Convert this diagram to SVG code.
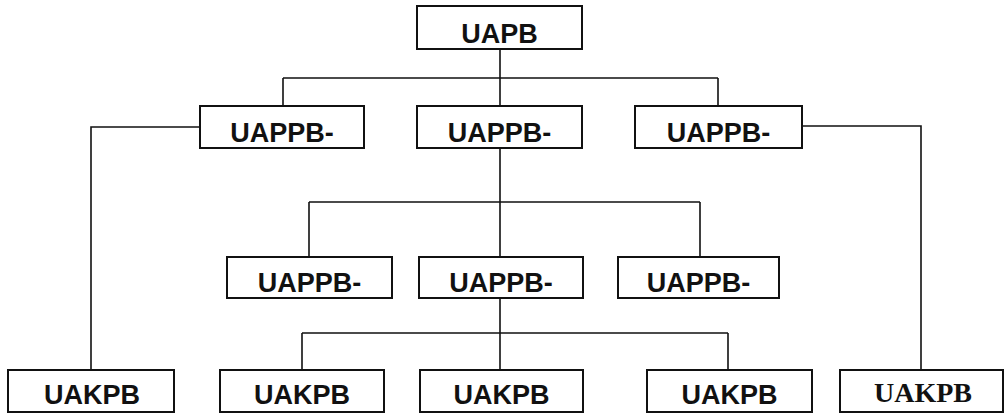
<svg xmlns="http://www.w3.org/2000/svg" width="1005" height="414" viewBox="0 0 1005 414">
<style>
.box{fill:#fff;stroke:#111;stroke-width:2}
.t{font-family:"Liberation Sans",Arial,sans-serif;font-weight:bold;font-size:27px;fill:#111;text-anchor:middle}
.ts{font-family:"Liberation Serif","Times New Roman",serif;font-weight:bold;font-size:28px;fill:#111;text-anchor:middle}
.c{fill:none;stroke:#111;stroke-width:1.6}
</style>
<rect width="1005" height="414" fill="#fff"/>
<g id="connectors">
<path class="c" d="M500,49V106M283,78H718M283,78V106M718,78V106"/>
<path class="c" d="M200,127H91V370M802,126H921V370"/>
<path class="c" d="M500,148V257M309,202H700M309,202V257M700,202V257"/>
<path class="c" d="M500,297V370M302,333H728M302,333V370M728,333V370"/>
</g>
<g id="uapb"><rect class="box" x="417" y="6" width="165" height="43"/><text class="t" x="499.5" y="43">UAPB</text></g>
<g id="uappb-l2-left"><rect class="box" x="200" y="106" width="164" height="42"/><text class="t" x="282" y="142">UAPPB-</text></g>
<g id="uappb-l2-mid"><rect class="box" x="417" y="106" width="165" height="42"/><text class="t" x="499.5" y="142">UAPPB-</text></g>
<g id="uappb-l2-right"><rect class="box" x="635" y="106" width="167" height="42"/><text class="t" x="718.5" y="142">UAPPB-</text></g>
<g id="uappb-l3-left"><rect class="box" x="227" y="257" width="165" height="41"/><text class="t" x="309.5" y="292">UAPPB-</text></g>
<g id="uappb-l3-mid"><rect class="box" x="419" y="257" width="164" height="41"/><text class="t" x="501" y="292">UAPPB-</text></g>
<g id="uappb-l3-right"><rect class="box" x="618" y="257" width="161" height="41"/><text class="t" x="698.5" y="292">UAPPB-</text></g>
<g id="uakpb-1"><rect class="box" x="8" y="370" width="166" height="42"/><text class="t" x="92" y="404">UAKPB</text></g>
<g id="uakpb-2"><rect class="box" x="220" y="370" width="164" height="42"/><text class="t" x="302" y="404">UAKPB</text></g>
<g id="uakpb-3"><rect class="box" x="420" y="370" width="163" height="42"/><text class="t" x="501.5" y="404">UAKPB</text></g>
<g id="uakpb-4"><rect class="box" x="647" y="370" width="165" height="42"/><text class="t" x="729.5" y="404">UAKPB</text></g>
<g id="uakpb-5"><rect class="box" x="840" y="370" width="163" height="42"/><text class="ts" x="923" y="402">UAKPB</text></g>
</svg>
